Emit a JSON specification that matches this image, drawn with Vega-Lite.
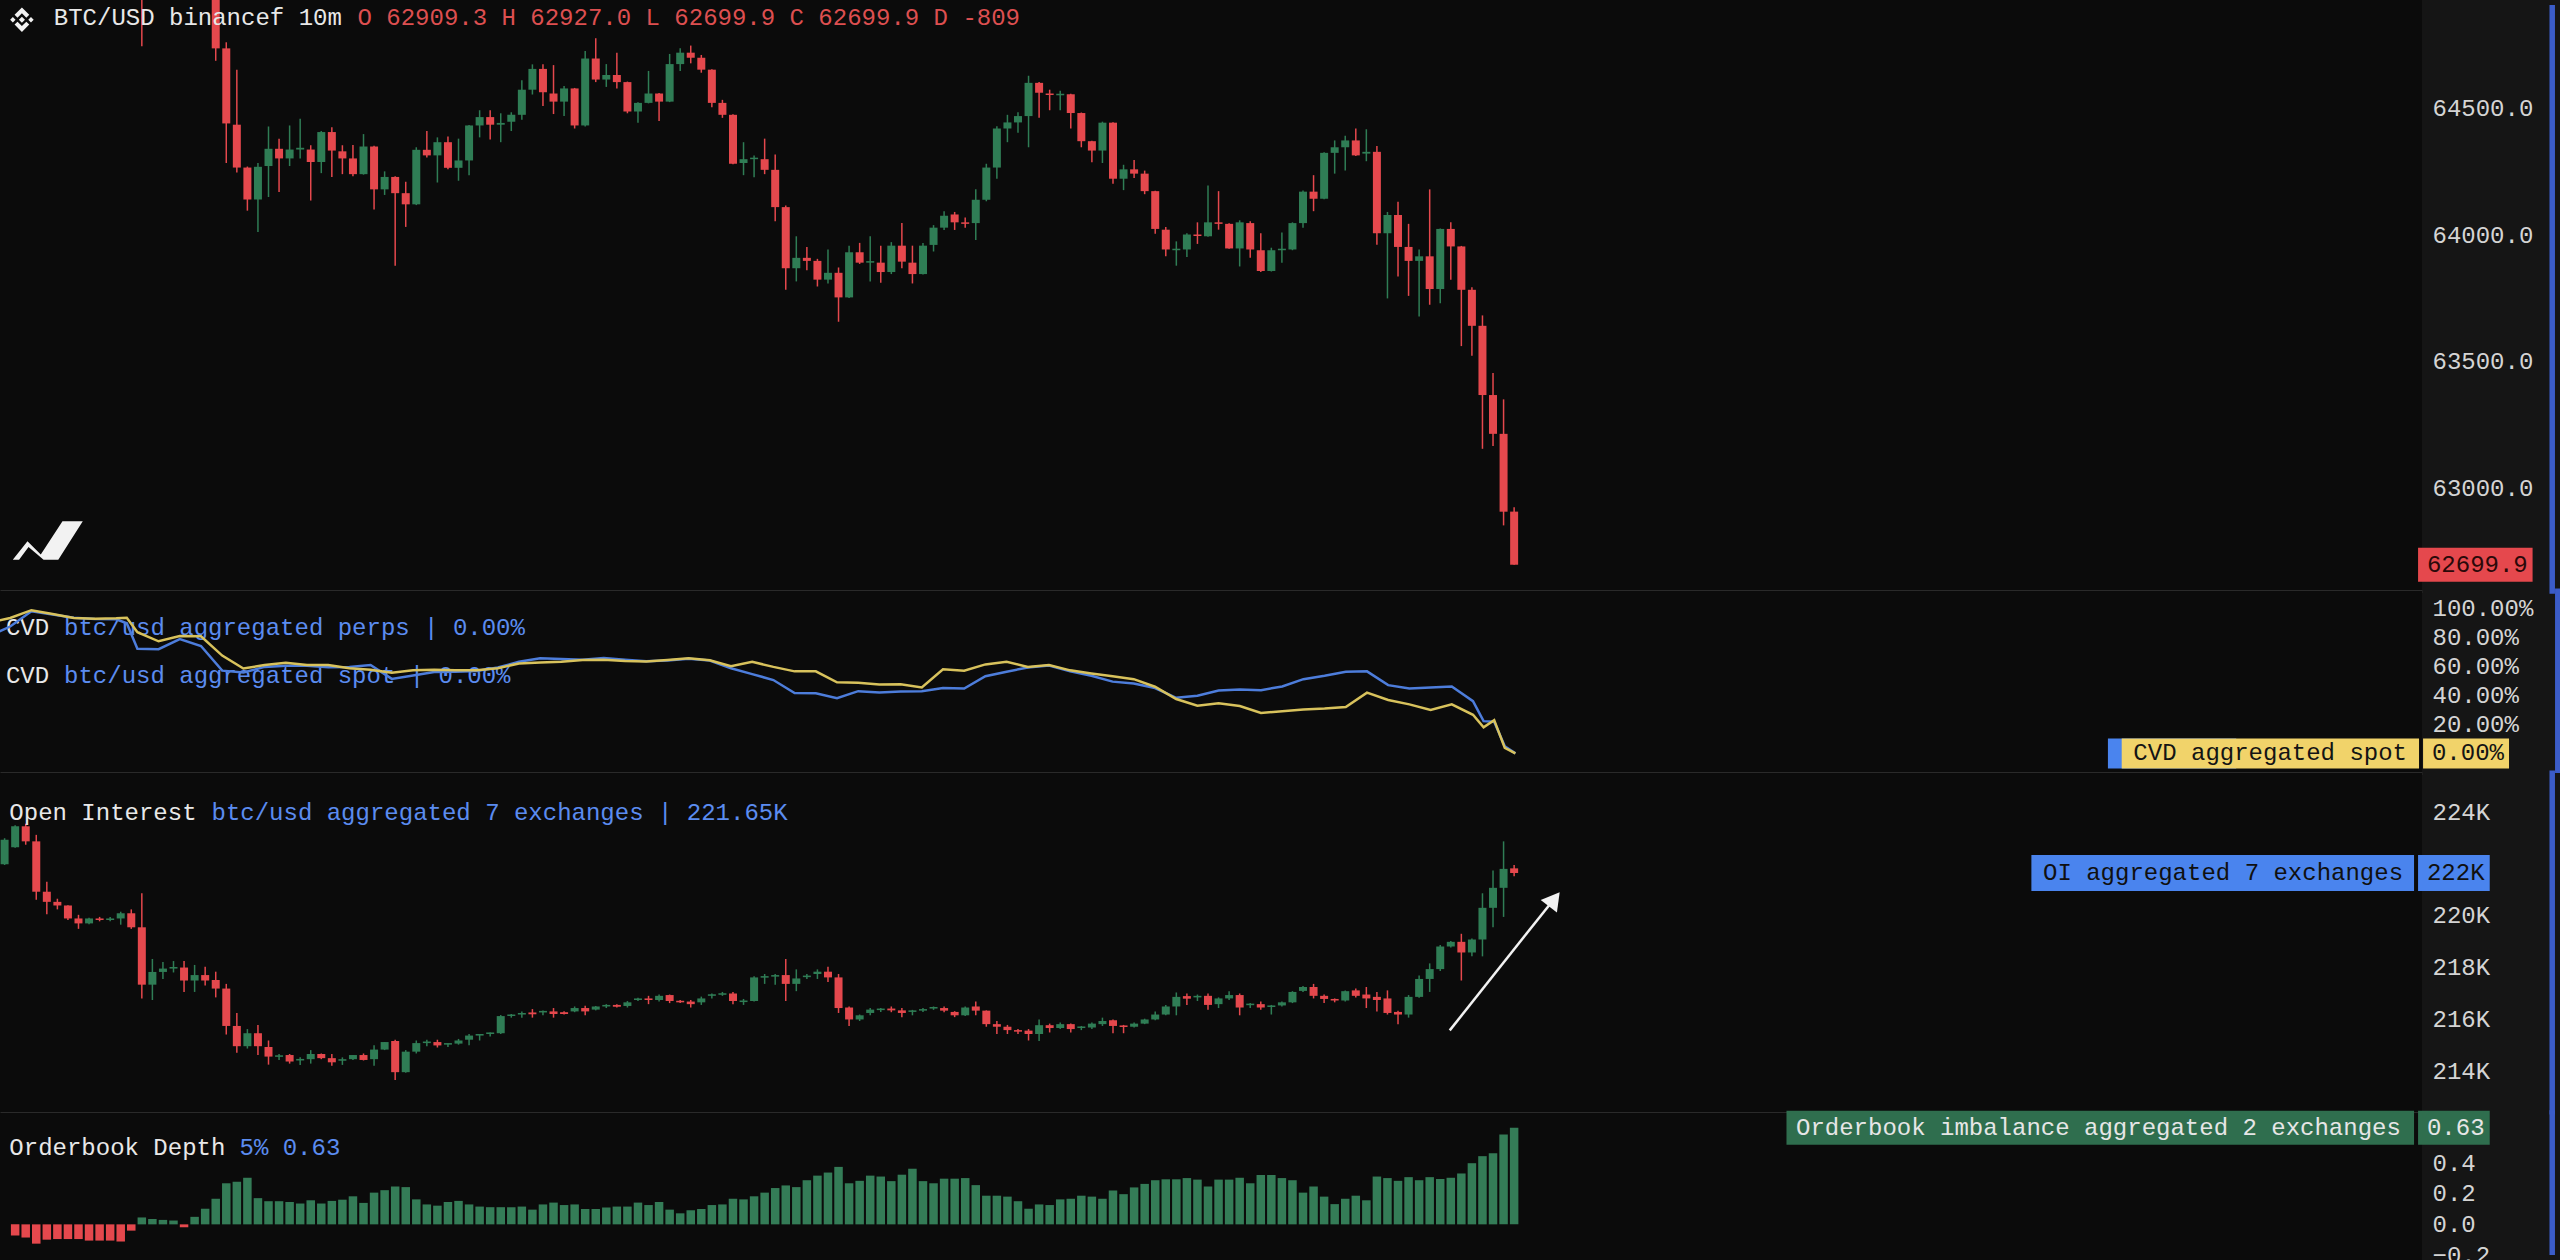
{
"$schema": "https://vega.github.io/schema/vega-lite/v6.json",
"background": "#151515",
"padding": 0,
"spacing": 0,
"bounds": "flush",
"config": {
  "view": {"fill": "#0b0b0b", "stroke": null},
  "font": "Liberation Mono",
  "axis": {"grid": false, "ticks": false, "domain": false, "labelColor": "#d4d4d4", "labelFont": "Liberation Mono", "labelFontSize": 24, "labelPadding": 10, "labelOverlap": false, "labelFlush": false}
},
"resolve": {"scale": {"x": "independent", "y": "independent"}},
"datasets": {
"price": [
{"i":12,"o":65100,"h":65150,"l":64744,"c":64950},
{"i":19,"o":65000,"h":65050,"l":64687,"c":64736},
{"i":20,"o":64736,"h":64760,"l":64284,"c":64440},
{"i":21,"o":64435,"h":64652,"l":64247,"c":64266},
{"i":22,"o":64266,"h":64270,"l":64096,"c":64140},
{"i":23,"o":64140,"h":64284,"l":64012,"c":64269},
{"i":24,"o":64272,"h":64428,"l":64150,"c":64340},
{"i":25,"o":64340,"h":64380,"l":64170,"c":64302},
{"i":26,"o":64302,"h":64432,"l":64272,"c":64337},
{"i":27,"o":64337,"h":64458,"l":64302,"c":64344},
{"i":28,"o":64337,"h":64354,"l":64136,"c":64288},
{"i":29,"o":64288,"h":64410,"l":64244,"c":64406},
{"i":30,"o":64406,"h":64425,"l":64229,"c":64333},
{"i":31,"o":64330,"h":64354,"l":64240,"c":64302},
{"i":32,"o":64302,"h":64355,"l":64232,"c":64240},
{"i":33,"o":64240,"h":64398,"l":64238,"c":64349},
{"i":34,"o":64349,"h":64352,"l":64101,"c":64180},
{"i":35,"o":64180,"h":64251,"l":64158,"c":64229},
{"i":36,"o":64229,"h":64232,"l":63879,"c":64165},
{"i":37,"o":64165,"h":64210,"l":64032,"c":64121},
{"i":38,"o":64121,"h":64346,"l":64118,"c":64336},
{"i":39,"o":64336,"h":64410,"l":64306,"c":64314},
{"i":40,"o":64314,"h":64385,"l":64207,"c":64366},
{"i":41,"o":64366,"h":64388,"l":64259,"c":64265},
{"i":42,"o":64265,"h":64380,"l":64214,"c":64294},
{"i":43,"o":64294,"h":64434,"l":64236,"c":64432},
{"i":44,"o":64432,"h":64492,"l":64385,"c":64465},
{"i":45,"o":64465,"h":64492,"l":64377,"c":64435},
{"i":46,"o":64435,"h":64480,"l":64366,"c":64442},
{"i":47,"o":64447,"h":64484,"l":64410,"c":64474},
{"i":48,"o":64474,"h":64610,"l":64455,"c":64573},
{"i":49,"o":64573,"h":64673,"l":64554,"c":64655},
{"i":50,"o":64655,"h":64673,"l":64509,"c":64563},
{"i":51,"o":64558,"h":64670,"l":64477,"c":64526},
{"i":52,"o":64526,"h":64588,"l":64469,"c":64578},
{"i":53,"o":64578,"h":64580,"l":64420,"c":64432},
{"i":54,"o":64432,"h":64726,"l":64428,"c":64696},
{"i":55,"o":64696,"h":64776,"l":64603,"c":64613},
{"i":56,"o":64613,"h":64674,"l":64584,"c":64631},
{"i":57,"o":64631,"h":64719,"l":64578,"c":64603},
{"i":58,"o":64603,"h":64605,"l":64480,"c":64487},
{"i":59,"o":64487,"h":64524,"l":64443,"c":64521},
{"i":60,"o":64521,"h":64647,"l":64519,"c":64558},
{"i":61,"o":64558,"h":64560,"l":64450,"c":64526},
{"i":62,"o":64526,"h":64714,"l":64524,"c":64674},
{"i":63,"o":64674,"h":64736,"l":64647,"c":64719},
{"i":64,"o":64719,"h":64747,"l":64677,"c":64699},
{"i":65,"o":64699,"h":64710,"l":64640,"c":64652},
{"i":66,"o":64652,"h":64654,"l":64504,"c":64521},
{"i":67,"o":64521,"h":64533,"l":64462,"c":64474},
{"i":68,"o":64474,"h":64476,"l":64279,"c":64281},
{"i":69,"o":64284,"h":64366,"l":64236,"c":64299},
{"i":70,"o":64299,"h":64314,"l":64228,"c":64305},
{"i":71,"o":64299,"h":64380,"l":64240,"c":64257},
{"i":72,"o":64257,"h":64317,"l":64054,"c":64110},
{"i":73,"o":64110,"h":64116,"l":63784,"c":63869},
{"i":74,"o":63869,"h":63995,"l":63817,"c":63910},
{"i":75,"o":63910,"h":63953,"l":63861,"c":63898},
{"i":76,"o":63898,"h":63906,"l":63797,"c":63824},
{"i":77,"o":63824,"h":63943,"l":63809,"c":63851},
{"i":78,"o":63851,"h":63872,"l":63658,"c":63754},
{"i":79,"o":63754,"h":63958,"l":63752,"c":63932},
{"i":80,"o":63932,"h":63969,"l":63886,"c":63891},
{"i":81,"o":63891,"h":63995,"l":63817,"c":63897},
{"i":82,"o":63891,"h":63958,"l":63812,"c":63854},
{"i":83,"o":63854,"h":63972,"l":63846,"c":63958},
{"i":84,"o":63958,"h":64047,"l":63869,"c":63895},
{"i":85,"o":63891,"h":63958,"l":63809,"c":63846},
{"i":86,"o":63846,"h":63969,"l":63844,"c":63958},
{"i":87,"o":63961,"h":64039,"l":63935,"c":64029},
{"i":88,"o":64029,"h":64094,"l":64020,"c":64076},
{"i":89,"o":64081,"h":64091,"l":64020,"c":64050},
{"i":90,"o":64050,"h":64069,"l":64029,"c":64044},
{"i":91,"o":64047,"h":64180,"l":63980,"c":64139},
{"i":92,"o":64139,"h":64281,"l":64133,"c":64266},
{"i":93,"o":64266,"h":64429,"l":64222,"c":64420},
{"i":94,"o":64420,"h":64474,"l":64366,"c":64444},
{"i":95,"o":64444,"h":64484,"l":64403,"c":64469},
{"i":96,"o":64469,"h":64628,"l":64346,"c":64600},
{"i":97,"o":64600,"h":64603,"l":64462,"c":64561},
{"i":98,"o":64558,"h":64573,"l":64492,"c":64552},
{"i":99,"o":64551,"h":64569,"l":64492,"c":64557},
{"i":100,"o":64555,"h":64557,"l":64420,"c":64481},
{"i":101,"o":64481,"h":64483,"l":64346,"c":64370},
{"i":102,"o":64370,"h":64372,"l":64287,"c":64333},
{"i":103,"o":64333,"h":64447,"l":64284,"c":64443},
{"i":104,"o":64443,"h":64445,"l":64202,"c":64222},
{"i":105,"o":64222,"h":64277,"l":64177,"c":64259},
{"i":106,"o":64259,"h":64296,"l":64225,"c":64242},
{"i":107,"o":64242,"h":64254,"l":64161,"c":64173},
{"i":108,"o":64173,"h":64175,"l":64005,"c":64024},
{"i":109,"o":64021,"h":64032,"l":63916,"c":63943},
{"i":110,"o":63940,"h":63975,"l":63879,"c":63946},
{"i":111,"o":63943,"h":64007,"l":63913,"c":64002},
{"i":112,"o":64002,"h":64050,"l":63965,"c":63996},
{"i":113,"o":63995,"h":64195,"l":63993,"c":64050},
{"i":114,"o":64050,"h":64173,"l":64021,"c":64044},
{"i":115,"o":64044,"h":64046,"l":63946,"c":63947},
{"i":116,"o":63947,"h":64058,"l":63876,"c":64050},
{"i":117,"o":64047,"h":64054,"l":63910,"c":63943},
{"i":118,"o":63940,"h":64007,"l":63854,"c":63858},
{"i":119,"o":63858,"h":63950,"l":63856,"c":63940},
{"i":120,"o":63940,"h":64010,"l":63891,"c":63946},
{"i":121,"o":63943,"h":64050,"l":63940,"c":64047},
{"i":122,"o":64047,"h":64176,"l":64029,"c":64171},
{"i":123,"o":64171,"h":64236,"l":64094,"c":64143},
{"i":124,"o":64143,"h":64326,"l":64141,"c":64324},
{"i":125,"o":64324,"h":64373,"l":64242,"c":64346},
{"i":126,"o":64346,"h":64391,"l":64254,"c":64373},
{"i":127,"o":64373,"h":64420,"l":64312,"c":64314},
{"i":128,"o":64321,"h":64417,"l":64291,"c":64328},
{"i":129,"o":64328,"h":64351,"l":63962,"c":64007},
{"i":130,"o":64007,"h":64091,"l":63750,"c":64079},
{"i":131,"o":64079,"h":64131,"l":63836,"c":63953},
{"i":132,"o":63953,"h":64044,"l":63760,"c":63898},
{"i":133,"o":63898,"h":63943,"l":63679,"c":63916},
{"i":134,"o":63916,"h":64180,"l":63725,"c":63787},
{"i":135,"o":63787,"h":64026,"l":63731,"c":64024},
{"i":136,"o":64024,"h":64050,"l":63824,"c":63955},
{"i":137,"o":63955,"h":63957,"l":63562,"c":63784},
{"i":138,"o":63784,"h":63794,"l":63524,"c":63642},
{"i":139,"o":63642,"h":63683,"l":63157,"c":63369},
{"i":140,"o":63369,"h":63456,"l":63168,"c":63216},
{"i":141,"o":63216,"h":63352,"l":62855,"c":62909},
{"i":142,"o":62909.3,"h":62927.0,"l":62699.9,"c":62699.9}
],
"cvd": [
{"i":-1,"perps":84.4,"spot":92.0},{"i":0,"perps":87.7,"spot":93.6},{"i":2,"perps":98.2,"spot":99.0},{"i":4,"perps":96.0,"spot":96.4},{"i":6,"perps":93.8,"spot":93.6},{"i":8,"perps":92.9,"spot":93.1},{"i":10,"perps":92.7,"spot":93.4},{"i":11,"perps":89.9,"spot":93.8},{"i":12,"perps":72.4,"spot":83.8},{"i":14,"perps":72.0,"spot":77.5},{"i":16,"perps":79.0,"spot":81.2},{"i":18,"perps":74.2,"spot":81.0},{"i":20,"perps":57.2,"spot":67.6},{"i":22,"perps":55.9,"spot":58.7},{"i":24,"perps":59.8,"spot":61.1},{"i":26,"perps":60.5,"spot":62.6},{"i":28,"perps":60.5,"spot":61.1},{"i":30,"perps":59.6,"spot":61.1},{"i":32,"perps":59.8,"spot":58.9},{"i":34,"perps":61.1,"spot":57.8},{"i":36,"perps":51.5,"spot":55.7},{"i":38,"perps":53.9,"spot":57.4},{"i":40,"perps":56.3,"spot":57.8},{"i":42,"perps":56.5,"spot":57.4},{"i":44,"perps":57.0,"spot":57.4},{"i":46,"perps":59.4,"spot":58.9},{"i":48,"perps":63.3,"spot":62.2},{"i":50,"perps":65.7,"spot":62.9},{"i":52,"perps":65.2,"spot":63.3},{"i":54,"perps":64.8,"spot":64.6},{"i":56,"perps":65.9,"spot":64.8},{"i":58,"perps":64.8,"spot":63.9},{"i":60,"perps":63.7,"spot":63.5},{"i":62,"perps":64.2,"spot":64.6},{"i":64,"perps":65.5,"spot":65.7},{"i":66,"perps":64.2,"spot":64.4},{"i":68,"perps":58.9,"spot":60.3},{"i":70,"perps":54.8,"spot":63.3},{"i":72,"perps":50.7,"spot":59.8},{"i":74,"perps":41.7,"spot":56.7},{"i":76,"perps":41.5,"spot":56.7},{"i":78,"perps":38.2,"spot":49.1},{"i":80,"perps":43.0,"spot":48.9},{"i":82,"perps":42.1,"spot":47.6},{"i":84,"perps":42.8,"spot":47.8},{"i":86,"perps":43.0,"spot":45.6},{"i":88,"perps":45.2,"spot":58.1},{"i":90,"perps":44.8,"spot":57.2},{"i":92,"perps":53.3,"spot":61.5},{"i":94,"perps":56.5,"spot":63.3},{"i":96,"perps":59.4,"spot":59.8},{"i":98,"perps":60.7,"spot":61.1},{"i":100,"perps":56.7,"spot":57.4},{"i":102,"perps":53.7,"spot":55.2},{"i":104,"perps":49.6,"spot":53.3},{"i":106,"perps":48.3,"spot":51.3},{"i":108,"perps":45.2,"spot":46.1},{"i":110,"perps":38.4,"spot":37.6},{"i":112,"perps":39.8,"spot":33.0},{"i":114,"perps":43.5,"spot":34.7},{"i":116,"perps":44.1,"spot":32.8},{"i":118,"perps":43.7,"spot":28.0},{"i":120,"perps":46.3,"spot":29.1},{"i":122,"perps":51.3,"spot":30.4},{"i":124,"perps":53.7,"spot":31.0},{"i":126,"perps":56.5,"spot":32.1},{"i":128,"perps":56.7,"spot":42.0},{"i":130,"perps":47.2,"spot":36.9},{"i":132,"perps":44.8,"spot":33.9},{"i":134,"perps":45.6,"spot":30.0},{"i":136,"perps":46.3,"spot":33.9},{"i":138,"perps":36.1,"spot":26.7},{"i":139,"perps":22.3,"spot":18.0},{"i":140,"perps":21.9,"spot":23.0},{"i":141,"perps":4.9,"spot":3.8},{"i":142,"perps":0,"spot":0}
],
"oi": [
{"i":-1,"o":221.99,"h":222.99,"l":221.96,"c":222.93},
{"i":0,"o":222.64,"h":223.49,"l":222.62,"c":223.45},
{"i":1,"o":223.45,"h":223.55,"l":222.74,"c":222.87},
{"i":2,"o":222.87,"h":223.12,"l":220.62,"c":220.93},
{"i":3,"o":220.93,"h":221.31,"l":220.06,"c":220.54},
{"i":4,"o":220.54,"h":220.66,"l":220.25,"c":220.40},
{"i":5,"o":220.40,"h":220.41,"l":219.84,"c":219.90},
{"i":6,"o":219.90,"h":220.04,"l":219.50,"c":219.71},
{"i":7,"o":219.71,"h":219.93,"l":219.68,"c":219.90},
{"i":8,"o":219.90,"h":219.96,"l":219.79,"c":219.84},
{"i":9,"o":219.84,"h":219.96,"l":219.79,"c":219.90},
{"i":10,"o":219.90,"h":220.16,"l":219.66,"c":220.10},
{"i":11,"o":220.10,"h":220.25,"l":219.50,"c":219.56},
{"i":12,"o":219.56,"h":220.87,"l":216.82,"c":217.35},
{"i":13,"o":217.35,"h":218.34,"l":216.76,"c":217.84},
{"i":14,"o":217.84,"h":218.22,"l":217.57,"c":217.97},
{"i":15,"o":217.97,"h":218.26,"l":217.82,"c":218.03},
{"i":16,"o":218.01,"h":218.26,"l":217.07,"c":217.51},
{"i":17,"o":217.51,"h":218.11,"l":217.07,"c":217.72},
{"i":18,"o":217.72,"h":218.04,"l":217.32,"c":217.51},
{"i":19,"o":217.53,"h":217.85,"l":216.86,"c":217.20},
{"i":20,"o":217.20,"h":217.38,"l":215.43,"c":215.76},
{"i":21,"o":215.76,"h":216.26,"l":214.73,"c":214.98},
{"i":22,"o":214.98,"h":215.64,"l":214.89,"c":215.48},
{"i":23,"o":215.48,"h":215.80,"l":214.64,"c":214.98},
{"i":24,"o":214.95,"h":215.20,"l":214.27,"c":214.58},
{"i":25,"o":214.57,"h":214.68,"l":214.45,"c":214.63},
{"i":26,"o":214.64,"h":214.68,"l":214.31,"c":214.39},
{"i":27,"o":214.43,"h":214.55,"l":214.26,"c":214.49},
{"i":28,"o":214.48,"h":214.83,"l":214.31,"c":214.68},
{"i":29,"o":214.68,"h":214.70,"l":214.48,"c":214.52},
{"i":30,"o":214.52,"h":214.68,"l":214.23,"c":214.36},
{"i":31,"o":214.42,"h":214.55,"l":214.26,"c":214.48},
{"i":32,"o":214.48,"h":214.64,"l":214.45,"c":214.64},
{"i":33,"o":214.64,"h":214.70,"l":214.43,"c":214.45},
{"i":34,"o":214.48,"h":215.02,"l":214.23,"c":214.85},
{"i":35,"o":214.85,"h":215.14,"l":214.83,"c":215.14},
{"i":36,"o":215.18,"h":215.23,"l":213.68,"c":213.98},
{"i":37,"o":213.98,"h":214.83,"l":213.96,"c":214.77},
{"i":38,"o":214.77,"h":215.20,"l":214.70,"c":215.10},
{"i":39,"o":215.10,"h":215.23,"l":214.98,"c":215.16},
{"i":40,"o":215.14,"h":215.23,"l":214.93,"c":215.01},
{"i":41,"o":215.04,"h":215.08,"l":214.95,"c":215.10},
{"i":42,"o":215.08,"h":215.26,"l":215.04,"c":215.20},
{"i":43,"o":215.23,"h":215.45,"l":215.02,"c":215.39},
{"i":44,"o":215.39,"h":215.45,"l":215.20,"c":215.45},
{"i":45,"o":215.45,"h":215.51,"l":215.35,"c":215.51},
{"i":46,"o":215.48,"h":216.18,"l":215.45,"c":216.14},
{"i":47,"o":216.14,"h":216.22,"l":216.08,"c":216.20},
{"i":48,"o":216.20,"h":216.32,"l":216.08,"c":216.26},
{"i":49,"o":216.28,"h":216.41,"l":216.08,"c":216.21},
{"i":50,"o":216.28,"h":216.36,"l":216.17,"c":216.34},
{"i":51,"o":216.32,"h":216.45,"l":216.08,"c":216.22},
{"i":52,"o":216.29,"h":216.33,"l":216.20,"c":216.22},
{"i":53,"o":216.32,"h":216.51,"l":216.29,"c":216.45},
{"i":54,"o":216.45,"h":216.54,"l":216.17,"c":216.32},
{"i":55,"o":216.39,"h":216.53,"l":216.36,"c":216.51},
{"i":56,"o":216.51,"h":216.60,"l":216.45,"c":216.57},
{"i":57,"o":216.57,"h":216.60,"l":216.47,"c":216.50},
{"i":58,"o":216.53,"h":216.72,"l":216.47,"c":216.67},
{"i":59,"o":216.76,"h":216.85,"l":216.72,"c":216.82},
{"i":60,"o":216.82,"h":216.92,"l":216.60,"c":216.76},
{"i":61,"o":216.76,"h":216.97,"l":216.70,"c":216.92},
{"i":62,"o":216.95,"h":216.97,"l":216.64,"c":216.72},
{"i":63,"o":216.73,"h":216.76,"l":216.64,"c":216.67},
{"i":64,"o":216.70,"h":216.76,"l":216.47,"c":216.60},
{"i":65,"o":216.67,"h":216.89,"l":216.57,"c":216.82},
{"i":66,"o":216.92,"h":217.01,"l":216.82,"c":216.98},
{"i":67,"o":216.96,"h":217.07,"l":216.92,"c":217.02},
{"i":68,"o":217.01,"h":217.07,"l":216.60,"c":216.72},
{"i":69,"o":216.68,"h":216.80,"l":216.57,"c":216.74},
{"i":70,"o":216.72,"h":217.67,"l":216.70,"c":217.63},
{"i":71,"o":217.62,"h":217.76,"l":217.38,"c":217.68},
{"i":72,"o":217.66,"h":217.76,"l":217.35,"c":217.72},
{"i":73,"o":217.72,"h":218.34,"l":216.72,"c":217.38},
{"i":74,"o":217.38,"h":217.94,"l":217.10,"c":217.59},
{"i":75,"o":217.64,"h":217.76,"l":217.57,"c":217.70},
{"i":76,"o":217.76,"h":217.94,"l":217.57,"c":217.85},
{"i":77,"o":217.85,"h":218.04,"l":217.45,"c":217.63},
{"i":78,"o":217.63,"h":217.76,"l":216.26,"c":216.45},
{"i":79,"o":216.47,"h":216.51,"l":215.76,"c":216.01},
{"i":80,"o":216.01,"h":216.20,"l":215.95,"c":216.17},
{"i":81,"o":216.26,"h":216.45,"l":216.17,"c":216.39},
{"i":82,"o":216.37,"h":216.45,"l":216.30,"c":216.43},
{"i":83,"o":216.43,"h":216.51,"l":216.29,"c":216.36},
{"i":84,"o":216.36,"h":216.45,"l":216.10,"c":216.26},
{"i":85,"o":216.30,"h":216.38,"l":216.17,"c":216.36},
{"i":86,"o":216.35,"h":216.45,"l":216.30,"c":216.41},
{"i":87,"o":216.43,"h":216.51,"l":216.38,"c":216.49},
{"i":88,"o":216.45,"h":216.51,"l":216.29,"c":216.35},
{"i":89,"o":216.30,"h":216.33,"l":216.10,"c":216.17},
{"i":90,"o":216.17,"h":216.51,"l":216.14,"c":216.47},
{"i":91,"o":216.51,"h":216.70,"l":216.17,"c":216.35},
{"i":92,"o":216.35,"h":216.36,"l":215.73,"c":215.83},
{"i":93,"o":215.83,"h":215.95,"l":215.45,"c":215.73},
{"i":94,"o":215.73,"h":215.80,"l":215.45,"c":215.60},
{"i":95,"o":215.60,"h":215.64,"l":215.45,"c":215.54},
{"i":96,"o":215.58,"h":215.64,"l":215.20,"c":215.45},
{"i":97,"o":215.45,"h":216.01,"l":215.18,"c":215.79},
{"i":98,"o":215.79,"h":215.85,"l":215.51,"c":215.68},
{"i":99,"o":215.68,"h":215.89,"l":215.64,"c":215.83},
{"i":100,"o":215.83,"h":215.85,"l":215.51,"c":215.64},
{"i":101,"o":215.68,"h":215.76,"l":215.60,"c":215.74},
{"i":102,"o":215.70,"h":215.89,"l":215.64,"c":215.85},
{"i":103,"o":215.83,"h":216.08,"l":215.76,"c":215.95},
{"i":104,"o":215.98,"h":216.01,"l":215.48,"c":215.76},
{"i":105,"o":215.78,"h":215.80,"l":215.48,"c":215.72},
{"i":106,"o":215.73,"h":215.89,"l":215.70,"c":215.85},
{"i":107,"o":215.85,"h":216.04,"l":215.83,"c":216.01},
{"i":108,"o":216.01,"h":216.32,"l":215.98,"c":216.20},
{"i":109,"o":216.20,"h":216.57,"l":216.17,"c":216.51},
{"i":110,"o":216.51,"h":217.05,"l":216.17,"c":216.88},
{"i":111,"o":216.91,"h":217.01,"l":216.57,"c":216.81},
{"i":112,"o":216.86,"h":216.97,"l":216.72,"c":216.92},
{"i":113,"o":216.92,"h":217.01,"l":216.38,"c":216.57},
{"i":114,"o":216.60,"h":216.86,"l":216.45,"c":216.82},
{"i":115,"o":216.82,"h":217.10,"l":216.76,"c":216.95},
{"i":116,"o":216.95,"h":217.01,"l":216.17,"c":216.47},
{"i":117,"o":216.56,"h":216.64,"l":216.45,"c":216.62},
{"i":118,"o":216.60,"h":216.70,"l":216.38,"c":216.47},
{"i":119,"o":216.49,"h":216.57,"l":216.20,"c":216.55},
{"i":120,"o":216.55,"h":216.70,"l":216.51,"c":216.67},
{"i":121,"o":216.67,"h":217.10,"l":216.64,"c":217.07},
{"i":122,"o":217.11,"h":217.30,"l":217.07,"c":217.26},
{"i":123,"o":217.26,"h":217.38,"l":216.82,"c":216.92},
{"i":124,"o":216.92,"h":216.97,"l":216.64,"c":216.80},
{"i":125,"o":216.80,"h":216.82,"l":216.67,"c":216.74},
{"i":126,"o":216.74,"h":217.13,"l":216.70,"c":217.10},
{"i":127,"o":217.13,"h":217.20,"l":216.86,"c":216.92},
{"i":128,"o":216.97,"h":217.26,"l":216.45,"c":216.82},
{"i":129,"o":216.88,"h":217.07,"l":216.32,"c":216.76},
{"i":130,"o":216.82,"h":217.13,"l":216.20,"c":216.26},
{"i":131,"o":216.30,"h":216.35,"l":215.83,"c":216.20},
{"i":132,"o":216.20,"h":216.95,"l":216.08,"c":216.88},
{"i":133,"o":216.88,"h":217.70,"l":216.85,"c":217.57},
{"i":134,"o":217.57,"h":218.17,"l":217.07,"c":217.95},
{"i":135,"o":217.95,"h":218.88,"l":217.88,"c":218.82},
{"i":136,"o":218.82,"h":219.03,"l":218.78,"c":219.00},
{"i":137,"o":219.00,"h":219.31,"l":217.51,"c":218.59},
{"i":138,"o":218.59,"h":219.13,"l":218.44,"c":219.09},
{"i":139,"o":219.09,"h":220.87,"l":218.44,"c":220.31},
{"i":140,"o":220.31,"h":221.75,"l":219.56,"c":221.08},
{"i":141,"o":221.08,"h":222.87,"l":219.96,"c":221.81},
{"i":142,"o":221.83,"h":221.96,"l":221.53,"c":221.65}
],
"ob": [
{"i":0,"v":-0.072},{"i":1,"v":-0.086},{"i":2,"v":-0.126},{"i":3,"v":-0.100},{"i":4,"v":-0.096},{"i":5,"v":-0.096},{"i":6,"v":-0.096},{"i":7,"v":-0.106},{"i":8,"v":-0.106},{"i":9,"v":-0.106},{"i":10,"v":-0.112},{"i":11,"v":-0.041},{"i":12,"v":0.045},{"i":13,"v":0.035},{"i":14,"v":0.029},{"i":15,"v":0.025},{"i":16,"v":-0.019},{"i":17,"v":0.049},{"i":18,"v":0.102},{"i":19,"v":0.167},{"i":20,"v":0.268},{"i":21,"v":0.278},{"i":22,"v":0.304},{"i":23,"v":0.171},{"i":24,"v":0.151},{"i":25,"v":0.151},{"i":26,"v":0.146},{"i":27,"v":0.136},{"i":28,"v":0.157},{"i":29,"v":0.136},{"i":30,"v":0.153},{"i":31,"v":0.161},{"i":32,"v":0.183},{"i":33,"v":0.140},{"i":34,"v":0.207},{"i":35,"v":0.223},{"i":36,"v":0.247},{"i":37,"v":0.243},{"i":38,"v":0.163},{"i":39,"v":0.130},{"i":40,"v":0.122},{"i":41,"v":0.146},{"i":42,"v":0.153},{"i":43,"v":0.130},{"i":44,"v":0.116},{"i":45,"v":0.112},{"i":46,"v":0.112},{"i":47,"v":0.112},{"i":48,"v":0.116},{"i":49,"v":0.096},{"i":50,"v":0.130},{"i":51,"v":0.142},{"i":52,"v":0.126},{"i":53,"v":0.130},{"i":54,"v":0.100},{"i":55,"v":0.100},{"i":56,"v":0.110},{"i":57,"v":0.116},{"i":58,"v":0.116},{"i":59,"v":0.142},{"i":60,"v":0.126},{"i":61,"v":0.146},{"i":62,"v":0.096},{"i":63,"v":0.072},{"i":64,"v":0.092},{"i":65,"v":0.100},{"i":66,"v":0.126},{"i":67,"v":0.130},{"i":68,"v":0.167},{"i":69,"v":0.163},{"i":70,"v":0.183},{"i":71,"v":0.207},{"i":72,"v":0.237},{"i":73,"v":0.254},{"i":74,"v":0.243},{"i":75,"v":0.288},{"i":76,"v":0.318},{"i":77,"v":0.338},{"i":78,"v":0.375},{"i":79,"v":0.268},{"i":80,"v":0.284},{"i":81,"v":0.318},{"i":82,"v":0.312},{"i":83,"v":0.282},{"i":84,"v":0.324},{"i":85,"v":0.363},{"i":86,"v":0.282},{"i":87,"v":0.268},{"i":88,"v":0.298},{"i":89,"v":0.298},{"i":90,"v":0.302},{"i":91,"v":0.256},{"i":92,"v":0.187},{"i":93,"v":0.187},{"i":94,"v":0.181},{"i":95,"v":0.151},{"i":96,"v":0.102},{"i":97,"v":0.130},{"i":98,"v":0.126},{"i":99,"v":0.163},{"i":100,"v":0.167},{"i":101,"v":0.187},{"i":102,"v":0.181},{"i":103,"v":0.167},{"i":104,"v":0.221},{"i":105,"v":0.197},{"i":106,"v":0.241},{"i":107,"v":0.264},{"i":108,"v":0.288},{"i":109,"v":0.294},{"i":110,"v":0.294},{"i":111,"v":0.302},{"i":112,"v":0.292},{"i":113,"v":0.247},{"i":114,"v":0.292},{"i":115,"v":0.292},{"i":116,"v":0.304},{"i":117,"v":0.268},{"i":118,"v":0.322},{"i":119,"v":0.322},{"i":120,"v":0.302},{"i":121,"v":0.288},{"i":122,"v":0.207},{"i":123,"v":0.247},{"i":124,"v":0.181},{"i":125,"v":0.132},{"i":126,"v":0.167},{"i":127,"v":0.187},{"i":128,"v":0.157},{"i":129,"v":0.312},{"i":130,"v":0.302},{"i":131,"v":0.284},{"i":132,"v":0.308},{"i":133,"v":0.288},{"i":134,"v":0.308},{"i":135,"v":0.296},{"i":136,"v":0.304},{"i":137,"v":0.332},{"i":138,"v":0.399},{"i":139,"v":0.445},{"i":140,"v":0.464},{"i":141,"v":0.587},{"i":142,"v":0.63}
],
"one": [{}]
},
"vconcat": [
{
 "width": 2422, "height": 591,
 "resolve": {"axis": {"x": "independent", "y": "independent"}},
 "layer": [
  {"data": {"name": "price"}, "mark": {"type": "rule", "strokeWidth": 1.5, "clip": true},
   "encoding": {
    "x": {"field": "i", "type": "quantitative", "title": null, "scale": {"domain": [-0.962, 227.53], "nice": false, "zero": false}, "axis": {"orient": "bottom", "labels": false, "ticks": false, "domain": true, "domainColor": "#2a2a2a", "domainWidth": 3, "title": null}},
    "y": {"field": "l", "type": "quantitative", "title": null, "scale": {"domain": [62616, 64907], "nice": false, "zero": false}, "axis": {"orient": "right", "values": [63000, 63500, 64000, 64500], "format": ".1f", "title": null}},
    "y2": {"field": "h"},
    "color": {"condition": {"test": "datum.c < datum.o", "value": "#e5484d"}, "value": "#2f7d55"}
   }},
  {"data": {"name": "price"}, "mark": {"type": "bar", "width": 8, "clip": true},
   "encoding": {
    "x": {"field": "i", "type": "quantitative", "axis": null},
    "y": {"field": "o", "type": "quantitative", "axis": null},
    "y2": {"field": "c"},
    "color": {"condition": {"test": "datum.c < datum.o", "value": "#e5484d"}, "value": "#2f7d55"}
   }},
  {"data": {"name": "one"}, "mark": {"type": "point", "shape": "M0,-0.25L0.25,0L0,0.25L-0.25,0Z M0,-1L0.6,-0.4L0.36,-0.16L0,-0.52L-0.36,-0.16L-0.6,-0.4Z M0,1L0.6,0.4L0.36,0.16L0,0.52L-0.36,0.16L-0.6,0.4Z M-0.74,-0.22L-0.52,0L-0.74,0.22L-0.96,0Z M0.74,-0.22L0.96,0L0.74,0.22L0.52,0Z", "filled": true, "size": 600, "color": "#f2f2f2", "opacity": 1},
   "encoding": {"x": {"datum": 0.64, "axis": null}, "y": {"datum": 64849, "axis": null}}},
  {"data": {"name": "one"}, "mark": {"type": "point", "shape": "M-1,0.55L-0.58,0.02L-0.2,0.4L0.42,-0.55L1,-0.55L0.3,0.55L-0.12,0.55L-0.55,0.18L-0.82,0.55Z", "filled": true, "size": 4900, "color": "#f2f2f2", "opacity": 1},
   "encoding": {"x": {"datum": 3.09, "axis": null}, "y": {"datum": 62795, "axis": null}}},
  {"data": {"name": "one"}, "mark": {"type": "text", "text": "BTC/USD binancef 10m", "align": "left", "baseline": "middle", "fontSize": 24, "font": "Liberation Mono", "color": "#e8e8e8"},
   "encoding": {"x": {"datum": 3.66, "axis": null}, "y": {"datum": 64855, "axis": null}}},
  {"data": {"name": "one"}, "mark": {"type": "text", "text": "O 62909.3 H 62927.0 L 62699.9 C 62699.9 D -809", "align": "left", "baseline": "middle", "fontSize": 24, "font": "Liberation Mono", "color": "#dd4f50"},
   "encoding": {"x": {"datum": 32.43, "axis": null}, "y": {"datum": 64855, "axis": null}}},
  {"data": {"name": "one"}, "mark": {"type": "bar", "height": 34, "color": "#e5484d", "clip": false},
   "encoding": {"x": {"datum": 227.63, "axis": null}, "x2": {"datum": 238.48}, "y": {"datum": 62699.9, "axis": null}}},
  {"data": {"name": "one"}, "mark": {"type": "text", "text": "62699.9", "align": "left", "baseline": "middle", "fontSize": 24, "font": "Liberation Mono", "color": "#2a0909"},
   "encoding": {"x": {"datum": 228.47, "axis": null}, "y": {"datum": 62699.9, "axis": null}}},
  {"data": {"name": "one"}, "mark": {"type": "bar", "color": "#3b5cc8", "clip": false},
   "encoding": {"x": {"datum": 240.08, "axis": null}, "x2": {"datum": 240.6}, "y": {"datum": 62585, "axis": null}, "y2": {"datum": 64907}}}
 ]
},
{
 "width": 2422, "height": 182,
 "resolve": {"axis": {"x": "independent", "y": "independent"}},
 "layer": [
  {"data": {"name": "one"}, "mark": {"type": "text", "text": "CVD", "align": "left", "baseline": "middle", "fontSize": 24, "font": "Liberation Mono", "color": "#e8e8e8"},
   "encoding": {
    "x": {"datum": -0.40, "type": "quantitative", "scale": {"domain": [-0.962, 227.53], "nice": false, "zero": false}, "axis": {"orient": "bottom", "labels": false, "ticks": false, "domain": true, "domainColor": "#2a2a2a", "domainWidth": 3, "title": null}},
    "y": {"datum": 86.6, "type": "quantitative", "scale": {"domain": [-10.1, 108.8], "nice": false, "zero": false}, "axis": {"orient": "right", "values": [20, 40, 60, 80, 100], "labelExpr": "format(datum.value, '.2f') + '%'", "title": null}}
   }},
  {"data": {"name": "one"}, "mark": {"type": "text", "text": "btc/usd aggregated perps | 0.00%", "align": "left", "baseline": "middle", "fontSize": 24, "font": "Liberation Mono", "color": "#5b8cf0"},
   "encoding": {"x": {"datum": 5.08, "axis": null}, "y": {"datum": 86.6, "axis": null}}},
  {"data": {"name": "one"}, "mark": {"type": "text", "text": "CVD", "align": "left", "baseline": "middle", "fontSize": 24, "font": "Liberation Mono", "color": "#e8e8e8"},
   "encoding": {"x": {"datum": -0.40, "axis": null}, "y": {"datum": 53.3, "axis": null}}},
  {"data": {"name": "one"}, "mark": {"type": "text", "text": "btc/usd aggregated spot | 0.00%", "align": "left", "baseline": "middle", "fontSize": 24, "font": "Liberation Mono", "color": "#5b8cf0"},
   "encoding": {"x": {"datum": 5.08, "axis": null}, "y": {"datum": 53.3, "axis": null}}},
  {"data": {"name": "cvd"}, "mark": {"type": "line", "color": "#4d7ddb", "strokeWidth": 2.5, "clip": true},
   "encoding": {"x": {"field": "i", "type": "quantitative", "axis": null}, "y": {"field": "perps", "type": "quantitative", "axis": null}}},
  {"data": {"name": "cvd"}, "mark": {"type": "line", "color": "#d8c25c", "strokeWidth": 2.5, "clip": true},
   "encoding": {"x": {"field": "i", "type": "quantitative", "axis": null}, "y": {"field": "spot", "type": "quantitative", "axis": null}}},
  {"data": {"name": "one"}, "mark": {"type": "bar", "height": 30, "color": "#4a84ee", "clip": false},
   "encoding": {"x": {"datum": 197.9, "axis": null}, "x2": {"datum": 210}, "y": {"datum": 0, "axis": null}}},
  {"data": {"name": "one"}, "mark": {"type": "bar", "height": 30, "color": "#f1d36a", "clip": false},
   "encoding": {"x": {"datum": 199.2, "axis": null}, "x2": {"datum": 227.25}, "y": {"datum": 0, "axis": null}}},
  {"data": {"name": "one"}, "mark": {"type": "text", "text": "CVD aggregated spot", "align": "left", "baseline": "middle", "fontSize": 24, "font": "Liberation Mono", "color": "#141414"},
   "encoding": {"x": {"datum": 200.3, "axis": null}, "y": {"datum": 0, "axis": null}}},
  {"data": {"name": "one"}, "mark": {"type": "bar", "height": 30, "color": "#f1d36a", "clip": false},
   "encoding": {"x": {"datum": 227.63, "axis": null}, "x2": {"datum": 235.74}, "y": {"datum": 0, "axis": null}}},
  {"data": {"name": "one"}, "mark": {"type": "text", "text": "0.00%", "align": "left", "baseline": "middle", "fontSize": 24, "font": "Liberation Mono", "color": "#141414"},
   "encoding": {"x": {"datum": 228.47, "axis": null}, "y": {"datum": 0, "axis": null}}},
  {"data": {"name": "one"}, "mark": {"type": "bar", "color": "#3b5cc8", "clip": false},
   "encoding": {"x": {"datum": 240.08, "axis": null}, "x2": {"datum": 240.6}, "y": {"datum": -13.5, "axis": null}, "y2": {"datum": 114}}}
 ]
},
{
 "width": 2422, "height": 340,
 "resolve": {"axis": {"x": "independent", "y": "independent"}},
 "layer": [
  {"data": {"name": "oi"}, "mark": {"type": "rule", "strokeWidth": 1.5, "clip": true},
   "encoding": {
    "x": {"field": "i", "type": "quantitative", "title": null, "scale": {"domain": [-0.962, 227.53], "nice": false, "zero": false}, "axis": {"orient": "bottom", "labels": false, "ticks": false, "domain": true, "domainColor": "#2a2a2a", "domainWidth": 3, "title": null}},
    "y": {"field": "l", "type": "quantitative", "title": null, "scale": {"domain": [212.6, 225.31], "nice": false, "zero": false}, "axis": {"orient": "right", "values": [214, 216, 218, 220, 224], "labelExpr": "format(datum.value, 'd') + 'K'", "title": null}},
    "y2": {"field": "h"},
    "color": {"condition": {"test": "datum.c < datum.o", "value": "#e5484d"}, "value": "#2f7d55"}
   }},
  {"data": {"name": "oi"}, "mark": {"type": "bar", "width": 8, "clip": true},
   "encoding": {
    "x": {"field": "i", "type": "quantitative", "axis": null},
    "y": {"field": "o", "type": "quantitative", "axis": null},
    "y2": {"field": "c"},
    "color": {"condition": {"test": "datum.c < datum.o", "value": "#e5484d"}, "value": "#2f7d55"}
   }},
  {"data": {"name": "one"}, "mark": {"type": "text", "text": "Open Interest", "align": "left", "baseline": "middle", "fontSize": 24, "font": "Liberation Mono", "color": "#e8e8e8"},
   "encoding": {"x": {"datum": -0.55, "axis": null}, "y": {"datum": 223.96, "axis": null}}},
  {"data": {"name": "one"}, "mark": {"type": "text", "text": "btc/usd aggregated 7 exchanges | 221.65K", "align": "left", "baseline": "middle", "fontSize": 24, "font": "Liberation Mono", "color": "#5b8cf0"},
   "encoding": {"x": {"datum": 18.6, "axis": null}, "y": {"datum": 223.96, "axis": null}}},
  {"data": {"name": "one"}, "mark": {"type": "rule", "color": "#f2f2f2", "strokeWidth": 2.5},
   "encoding": {"x": {"datum": 135.9, "axis": null}, "x2": {"datum": 145.45}, "y": {"datum": 215.59, "axis": null}, "y2": {"datum": 220.48}}},
  {"data": {"name": "one"}, "mark": {"type": "point", "shape": "triangle-up", "filled": true, "size": 420, "angle": 37.7, "color": "#f2f2f2", "opacity": 1},
   "encoding": {"x": {"datum": 145.8, "axis": null}, "y": {"datum": 220.64, "axis": null}}},
  {"data": {"name": "one"}, "mark": {"type": "bar", "height": 36, "color": "#4a84ee", "clip": false},
   "encoding": {"x": {"datum": 191.0, "axis": null}, "x2": {"datum": 227.25}, "y": {"datum": 221.65, "axis": null}}},
  {"data": {"name": "one"}, "mark": {"type": "text", "text": "OI aggregated 7 exchanges", "align": "left", "baseline": "middle", "fontSize": 24, "font": "Liberation Mono", "color": "#101010"},
   "encoding": {"x": {"datum": 192.1, "axis": null}, "y": {"datum": 221.65, "axis": null}}},
  {"data": {"name": "one"}, "mark": {"type": "bar", "height": 36, "color": "#4a84ee", "clip": false},
   "encoding": {"x": {"datum": 227.63, "axis": null}, "x2": {"datum": 234.42}, "y": {"datum": 221.65, "axis": null}}},
  {"data": {"name": "one"}, "mark": {"type": "text", "text": "222K", "align": "left", "baseline": "middle", "fontSize": 24, "font": "Liberation Mono", "color": "#101010"},
   "encoding": {"x": {"datum": 228.47, "axis": null}, "y": {"datum": 221.65, "axis": null}}},
  {"data": {"name": "one"}, "mark": {"type": "bar", "color": "#3b5cc8", "clip": false},
   "encoding": {"x": {"datum": 240.08, "axis": null}, "x2": {"datum": 240.6}, "y": {"datum": 212.35, "axis": null}, "y2": {"datum": 225.6}}}
 ]
},
{
 "width": 2422, "height": 147,
 "resolve": {"axis": {"x": "independent", "y": "independent"}},
 "layer": [
  {"data": {"name": "ob"}, "mark": {"type": "bar", "width": 8.5, "clip": true},
   "encoding": {
    "x": {"field": "i", "type": "quantitative", "title": null, "scale": {"domain": [-0.962, 227.53], "nice": false, "zero": false}, "axis": null},
    "y": {"field": "v", "type": "quantitative", "title": null, "scale": {"domain": [-0.2, 0.694], "nice": false, "zero": false}, "axis": {"orient": "right", "values": [-0.2, 0, 0.2, 0.4], "format": ".1f", "title": null}},
    "y2": {"datum": 0},
    "color": {"condition": {"test": "datum.v < 0", "value": "#e5484d"}, "value": "#347c57"}
   }},
  {"data": {"name": "one"}, "mark": {"type": "text", "text": "Orderbook Depth", "align": "left", "baseline": "middle", "fontSize": 24, "font": "Liberation Mono", "color": "#e8e8e8"},
   "encoding": {"x": {"datum": -0.55, "axis": null}, "y": {"datum": 0.5, "axis": null}}},
  {"data": {"name": "one"}, "mark": {"type": "text", "text": "5% 0.63", "align": "left", "baseline": "middle", "fontSize": 24, "font": "Liberation Mono", "color": "#5b8cf0"},
   "encoding": {"x": {"datum": 21.25, "axis": null}, "y": {"datum": 0.5, "axis": null}}},
  {"data": {"name": "one"}, "mark": {"type": "bar", "height": 34, "color": "#2f6e4e", "clip": false},
   "encoding": {"x": {"datum": 167.8, "axis": null}, "x2": {"datum": 227.25}, "y": {"datum": 0.63, "axis": null}}},
  {"data": {"name": "one"}, "mark": {"type": "text", "text": "Orderbook imbalance aggregated 2 exchanges", "align": "left", "baseline": "middle", "fontSize": 24, "font": "Liberation Mono", "color": "#e6e6e6"},
   "encoding": {"x": {"datum": 168.7, "axis": null}, "y": {"datum": 0.63, "axis": null}}},
  {"data": {"name": "one"}, "mark": {"type": "bar", "height": 34, "color": "#2f6e4e", "clip": false},
   "encoding": {"x": {"datum": 227.63, "axis": null}, "x2": {"datum": 234.42}, "y": {"datum": 0.63, "axis": null}}},
  {"data": {"name": "one"}, "mark": {"type": "text", "text": "0.63", "align": "left", "baseline": "middle", "fontSize": 24, "font": "Liberation Mono", "color": "#e6e6e6"},
   "encoding": {"x": {"datum": 228.47, "axis": null}, "y": {"datum": 0.63, "axis": null}}},
  {"data": {"name": "one"}, "mark": {"type": "bar", "color": "#3b5cc8", "clip": false},
   "encoding": {"x": {"datum": 240.08, "axis": null}, "x2": {"datum": 240.6}, "y": {"datum": -0.2, "axis": null}, "y2": {"datum": 0.744}}}
 ]
}
]
}
